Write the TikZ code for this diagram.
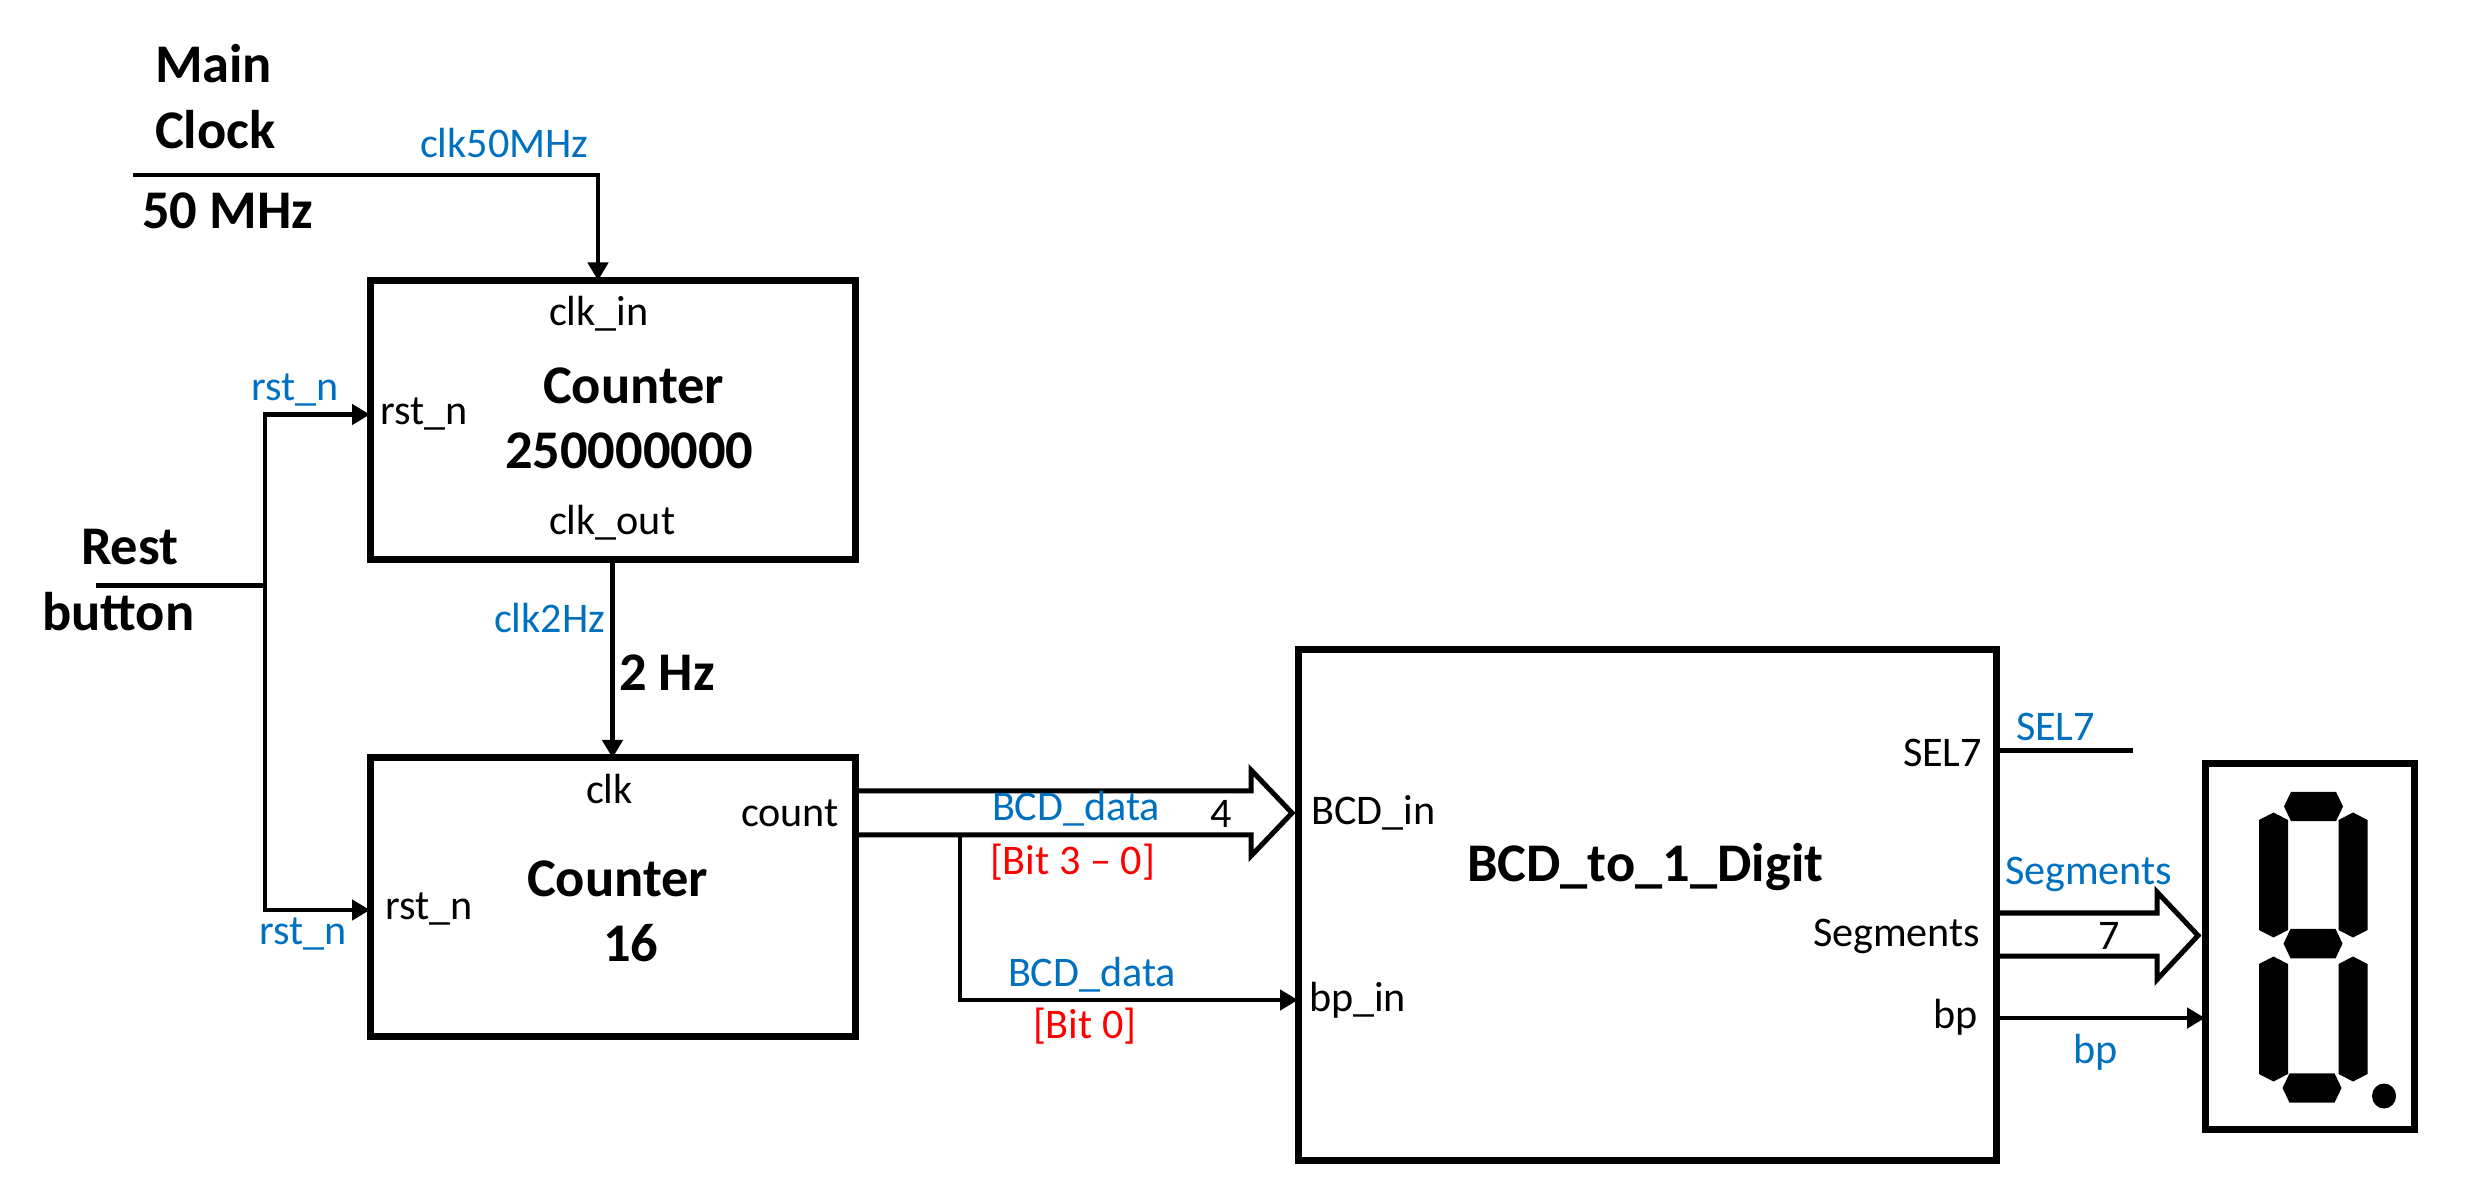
\documentclass[tikz,border=0pt]{standalone}
\usepackage{fontspec}
\setmainfont{Carlito}
\usepackage{xcolor}
\usepackage{tikz}
\usetikzlibrary{arrows.meta}
\definecolor{sigblue}{HTML}{0070C0}
\definecolor{bitred}{HTML}{FF0000}
\tikzset{
  lbl/.style={anchor=base west, inner sep=0pt, outer sep=0pt, font=\fontsize{12}{14}\selectfont},
  siglbl/.style={lbl, text=sigblue},
  bitlbl/.style={lbl, text=bitred},
  titlelbl/.style={lbl, font=\fontsize{15.5}{18}\selectfont\bfseries},
  block/.style={draw, line width=.07cm, inner sep=0pt, outer sep=0pt},
  wire/.style={line width=.045cm},
  bus/.style={line width=.05cm, miter limit=10},
  >={Triangle[length=.18cm,width=.2cm]}
}

\begin{document}
\begin{tikzpicture}
    \useasboundingbox (0cm, 0cm) rectangle (24.75cm, 11.98cm);
      % Blocks
      \node[block, minimum width=4.85cm, minimum height=2.79cm] (cntfast) at (6.125cm, 7.78cm) {};
      \node[block, minimum width=4.85cm, minimum height=2.78cm] (cntbcd) at (6.125cm, 3.01cm) {};
      \node[block, minimum width=6.98cm, minimum height=5.105cm] (decoder) at (16.47cm, 2.9325cm) {};
      \node[block, minimum width=2.09cm, minimum height=3.66cm] (display) at (23.095cm, 2.514cm) {};

      % Free ends
      \coordinate (clkstart) at (1.33cm, 10.23cm);
      \coordinate (clkcorner) at (5.98cm, 10.23cm);
      \coordinate (rststart) at (.96cm, 6.125cm);
      \coordinate (rstjoin) at (2.65cm, 6.125cm);
      \coordinate (rstup) at (2.65cm, 7.835cm);
      \coordinate (rstdown) at (2.65cm, 2.88cm);
      \coordinate (busup) at (8.53cm, 4.07cm);
      \coordinate (buslow) at (8.53cm, 3.63cm);
      \coordinate (bustip) at (12.92cm, 3.85cm);
      \coordinate (busdrop) at (9.6cm, 3.63cm);
      \coordinate (bpcorner) at (9.6cm, 1.98cm);
      \coordinate (selout) at (19.96cm, 4.475cm);
      \coordinate (selend) at (21.33cm, 4.475cm);
      \coordinate (segup) at (19.96cm, 2.85cm);
      \coordinate (seglow) at (19.96cm, 2.42cm);
      \coordinate (segtip) at (21.98cm, 2.625cm);
      \coordinate (bpout) at (19.96cm, 1.8cm);

      % Connectors
      \draw[wire,->] (clkstart) -- (clkcorner) -- (clkcorner |- cntfast.north);
      \draw[wire] (rststart) -- (rstjoin);
      \draw[wire,<->] (rstup -| cntfast.west) -- (rstup) -- (rstdown) -- (rstdown -| cntbcd.west);
      \draw[wire,->] (cntfast.south) -- (cntbcd.north);
      \draw[wire,->] (busdrop) -- (bpcorner) -- (bpcorner -| decoder.west);
      \draw[wire] (selout) -- (selend);
      \draw[wire,->] (bpout) -- (bpout -| display.west);

      % Fat arrows
      \draw[bus] (busup) -- ++(3.98cm, 0cm) -- ++(0cm, .21cm) -- (bustip) -- ++(-.41cm, -.43cm) -- ++(0cm, .21cm) -- (buslow);
      \draw[bus] (segup) -- ++(1.61cm, 0cm) -- ++(0cm, .21cm) -- (segtip) -- ++(-.41cm, -.44cm) -- ++(0cm, .235cm) -- (seglow);

      % Main clock and reset
      \node[titlelbl] (mainlbl) at (1.55cm, 11.15cm) {Main};
      \node[titlelbl] (clocklbl) at (1.55cm, 10.495cm) {Clock};
      \node[titlelbl] (freqlbl) at (1.42cm, 9.69cm) {50 MHz};
      \node[titlelbl] (restlbl) at (.81cm, 6.335cm) {Rest};
      \node[titlelbl] (buttonlbl) at (.42cm, 5.675cm) {button};
      \node[titlelbl] (slowlbl) at (6.19cm, 5.075cm) {2 Hz};

      % Counter 250000000
      \node[titlelbl] (fastname) at (5.43cm, 7.94cm) {Counter};
      \node[titlelbl] (fastvalue) at (5.05cm, 7.295cm) {250000000};
      \node[lbl] (fastclkin) at (5.49cm, 8.72cm) {clk\_in};
      \node[lbl] (fastclkout) at (5.49cm, 6.635cm) {clk\_out};
      \node[lbl] (fastrst) at (3.8cm, 7.735cm) {rst\_n};

      % Counter 16
      \node[titlelbl] (bcdname) at (5.27cm, 3.015cm) {Counter};
      \node[titlelbl] (bcdvalue) at (6.03cm, 2.37cm) {16};
      \node[lbl] (bcdclk) at (5.86cm, 3.945cm) {clk};
      \node[lbl] (bcdcount) at (7.41cm, 3.715cm) {count};
      \node[lbl] (bcdrst) at (3.85cm, 2.785cm) {rst\_n};

      % BCD_to_1_Digit
      \node[titlelbl] (decname) at (14.67cm, 3.165cm) {BCD\_to\_1\_Digit};
      \node[lbl] (decbcd) at (13.115cm, 3.73cm) {BCD\_in};
      \node[lbl] (decbp) at (13.09cm, 1.87cm) {bp\_in};
      \node[lbl] (decsel) at (19.03cm, 4.31cm) {SEL7};
      \node[lbl] (decseg) at (18.13cm, 2.52cm) {Segments};
      \node[lbl] (decbpout) at (19.33cm, 1.695cm) {bp};

      % Signal names
      \node[siglbl] (sigclk) at (4.2cm, 10.405cm) {clk50MHz};
      \node[siglbl] (sigrsta) at (2.51cm, 7.97cm) {rst\_n};
      \node[siglbl] (sigrstb) at (2.59cm, 2.54cm) {rst\_n};
      \node[siglbl] (sigslow) at (4.94cm, 5.655cm) {clk2Hz};
      \node[siglbl] (sigbcda) at (9.92cm, 3.775cm) {BCD\_data};
      \node[siglbl] (sigbcdb) at (10.08cm, 2.115cm) {BCD\_data};
      \node[siglbl] (sigsel) at (20.16cm, 4.57cm) {SEL7};
      \node[siglbl] (sigseg) at (20.05cm, 3.14cm) {Segments};
      \node[siglbl] (sigbp) at (20.735cm, 1.345cm) {bp};
      \node[bitlbl] (bitsa) at (9.9cm, 3.235cm) {[Bit 3 -- 0]};
      \node[bitlbl] (bitsb) at (10.33cm, 1.595cm) {[Bit 0]};
      \node[lbl] (widtha) at (12.1cm, 3.705cm) {4};
      \node[lbl] (widthb) at (20.98cm, 2.485cm) {7};

      % Seven segments
      \foreach \x/\y in {23.135/3.915, 23.13/2.544, 23.12/1.1}
      \fill (\x - .295, \y) -- ++(.07, .147) -- ++(.45, 0) -- ++(.07, -.147) -- ++(-.07, -.147) -- ++(-.45, 0) -- cycle;
      \foreach \x in {22.735, 23.53}
      \foreach \y in {3.23, 1.79}
      \fill (\x - .145, \y + .55) -- ++(.145, .075) -- ++(.145, -.075) -- ++(0, -1.1) -- ++(-.145, -.075) -- ++(-.145, .075) -- cycle;
      \fill (23.84cm, 1.02cm) ellipse (.12cm and .125cm);
  \end{tikzpicture}
\end{document}
